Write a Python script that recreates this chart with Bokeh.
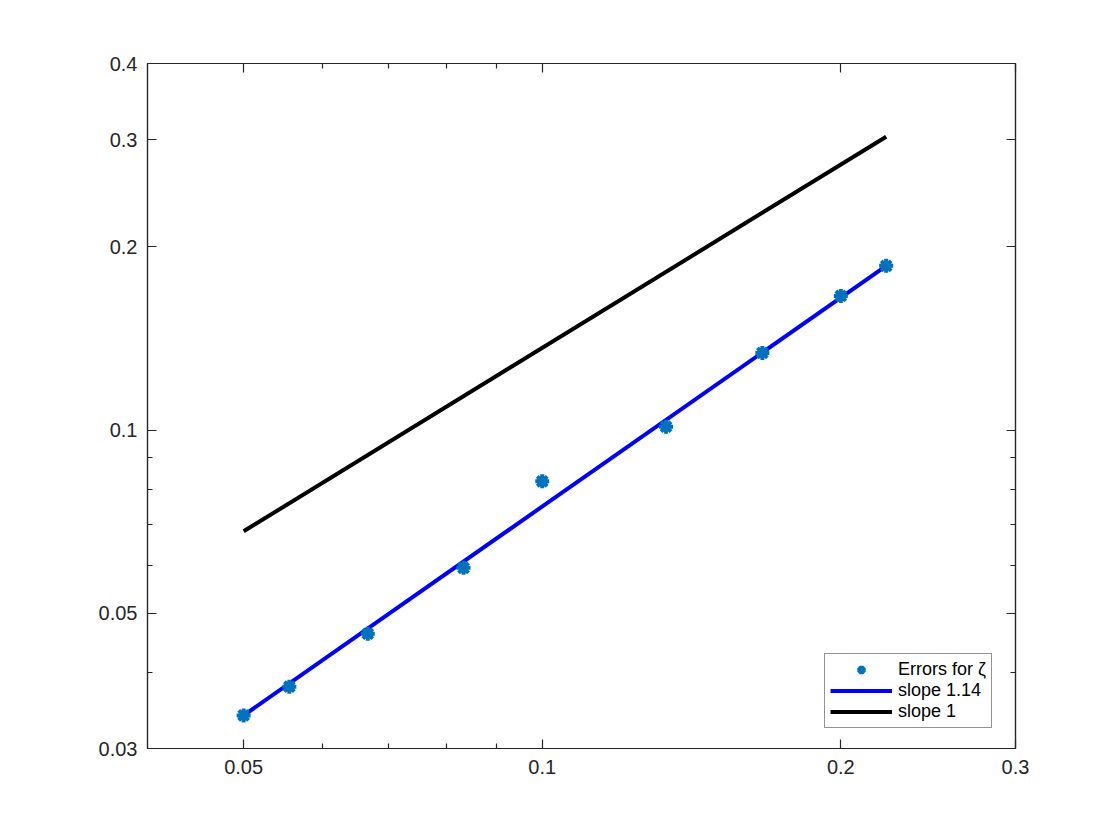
from bokeh.plotting import figure
from bokeh.models import (FixedTicker, CustomJSTickFormatter, LogAxis, Legend, LegendItem, Range1d)
from bokeh.embed import file_html
from bokeh.resources import INLINE

# data
h = [0.05, 0.0556, 0.0667, 0.0833, 0.1, 0.1333, 0.1667, 0.2, 0.2222]
err = [0.0340, 0.0379, 0.0463, 0.0594, 0.0824, 0.1013, 0.1339, 0.1661, 0.1861]
fit_x = [0.05, 0.2222]
fit_y = [0.0340, 0.1861]
ref_x = [0.05, 0.2222]
ref_y = [0.0682, 0.3033]

x_major = [0.05, 0.1, 0.2, 0.3]
x_minor = [0.06, 0.07, 0.08, 0.09]
y_major = [0.03, 0.05, 0.1, 0.2, 0.3, 0.4]
y_minor = [0.04, 0.06, 0.07, 0.08, 0.09]

labels = ["Errors for ζ", "slope 1.14", "slope 1"]

FONT = "Liberation Sans"
AX = "#262626"

p = figure(width=1104, height=824, x_axis_type="log", y_axis_type="log",
           x_range=Range1d(0.04, 0.3), y_range=Range1d(0.03, 0.4),
           output_backend="svg", toolbar_location=None,
           min_border_left=147, min_border_top=63, min_border_right=89, min_border_bottom=76)
p.grid.visible = False
p.outline_line_color = AX
p.outline_line_width = 1.2
p.background_fill_color = "white"
p.border_fill_color = "white"

fmt = CustomJSTickFormatter(code="return tick.toString();")

def style(ax, ticker, show_labels=True, standoff=10):
    ax.ticker = ticker
    ax.formatter = fmt
    ax.axis_line_color = AX
    ax.axis_line_width = 1.2
    ax.major_tick_in = 9
    ax.major_tick_out = 0
    ax.minor_tick_in = 5
    ax.minor_tick_out = 0
    ax.major_tick_line_color = AX
    ax.minor_tick_line_color = AX
    ax.major_tick_line_width = 1.2
    ax.minor_tick_line_width = 1.2
    ax.major_label_text_font = FONT
    ax.major_label_text_font_size = "20px"
    ax.major_label_text_color = AX
    ax.major_label_standoff = standoff
    if not show_labels:
        ax.major_label_text_font_size = "0px"
        ax.major_label_text_alpha = 0

xt = FixedTicker(ticks=x_major, minor_ticks=x_minor)
yt = FixedTicker(ticks=y_major, minor_ticks=y_minor)
style(p.xaxis[0], xt, standoff=11)
style(p.yaxis[0], yt, standoff=10)

top = LogAxis()
style(top, FixedTicker(ticks=x_major, minor_ticks=x_minor), show_labels=False)
p.add_layout(top, "above")
right = LogAxis()
style(right, FixedTicker(ticks=y_major, minor_ticks=y_minor), show_labels=False)
p.add_layout(right, "right")

r_ref = p.line(ref_x, ref_y, line_color="black", line_width=4)
r_fit = p.line(fit_x, fit_y, line_color="#0000FF", line_width=4)
r_pts = p.scatter(h, err, marker="asterisk", size=14, line_color="#0072BD", line_width=4)

legend = Legend(items=[LegendItem(label=labels[0], renderers=[r_pts]),
                       LegendItem(label=labels[1], renderers=[r_fit]),
                       LegendItem(label=labels[2], renderers=[r_ref])],
                location=(677, 20), padding=5, spacing=0, glyph_width=62, glyph_height=21,
                label_standoff=6, label_text_font=FONT, label_text_font_size="18px",
                label_text_color="black", label_height=21,
                border_line_color=AX, border_line_width=1.2, background_fill_alpha=1,
                margin=0)
p.add_layout(legend, "center")

open("out.html", "w").write(file_html(p, INLINE))
